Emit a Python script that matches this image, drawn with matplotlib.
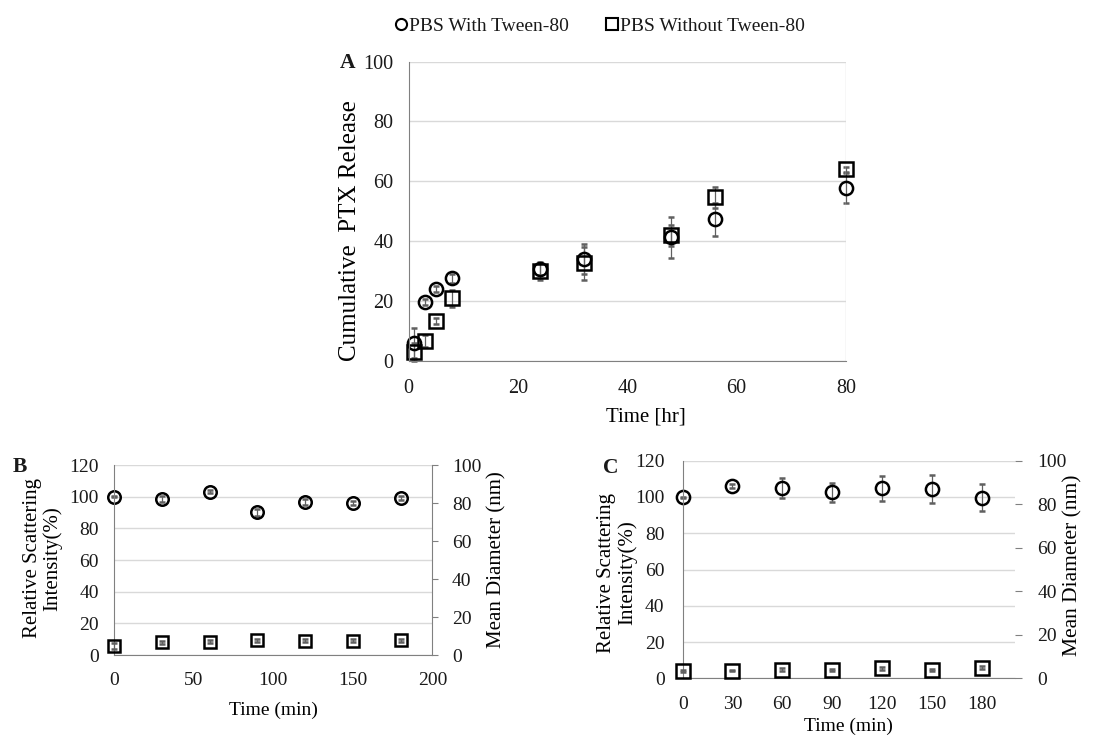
import matplotlib
matplotlib.use("Agg")
import matplotlib.pyplot as plt
from matplotlib.lines import Line2D

plt.rcParams['font.family'] = ['Liberation Serif', 'DejaVu Serif']
plt.rcParams['font.size'] = 14
plt.rcParams['text.color'] = '#1a1a1a'
plt.rcParams['xtick.color'] = '#1a1a1a'
plt.rcParams['ytick.color'] = '#1a1a1a'

# panel A: cumulative release
t_hr = [1, 3, 5, 8, 24, 32, 48, 56, 80]
rel_with = [5.8, 19.7, 24.1, 27.5, 30.5, 33.9, 41.2, 47.3, 57.6]
rel_with_err = [5.0, 1.0, 1.0, 1.5, 2.0, 5.0, 7.0, 5.5, 5.0]
rel_without = [3.0, 6.7, 13.4, 20.8, 30.1, 32.6, 42.0, 54.6, 64.0]
rel_without_err = [3.0, 2.0, 1.0, 3.0, 3.0, 5.5, 3.5, 3.5, 0.8]

# panel B
t_b = [0, 30, 60, 90, 120, 150, 180]
int_b = [100, 98.5, 103.2, 90.1, 96.8, 96.0, 99.2]
int_b_err = [0.5, 2.0, 1.0, 2.0, 2.0, 1.5, 1.5]
diam_b = [4.9, 6.7, 7.0, 7.9, 7.4, 7.4, 7.9]
diam_b_err = [1.5, 0.8, 0.8, 0.8, 0.8, 0.8, 0.8]

# panel C
t_c = [0, 30, 60, 90, 120, 150, 180]
int_c = [99.8, 106.2, 105.1, 102.6, 104.8, 104.4, 99.6]
int_c_err = [0.3, 1.0, 5.4, 5.2, 6.8, 7.5, 7.3]
diam_c = [3.4, 3.5, 4.0, 3.8, 4.6, 4.0, 4.9]
diam_c_err = [0.5, 0.3, 0.6, 0.4, 0.7, 0.5, 0.6]

grid_col = '#d9d9d9'
spine_col = '#808080'
mk = dict(mfc='none', mec='black', mew=1.8, ls='none', ecolor='#606060',
          elinewidth=0.9, capsize=2.5, capthick=0.9)


def style(ax):
    ax.grid(axis='y', color=grid_col, lw=1)
    ax.set_axisbelow(True)
    for s in ['top', 'right']:
        ax.spines[s].set_visible(False)
    ax.spines['left'].set_color(spine_col)
    ax.spines['bottom'].set_color(spine_col)
    ax.tick_params(length=0)


def place_labels(ax, xl, yl):
    ax.xaxis.set_label_coords(*xl)
    ax.xaxis.label.set_va('center')
    ax.yaxis.set_label_coords(*yl)
    ax.yaxis.label.set_va('center')


fig = plt.figure(figsize=(11.18, 7.35), dpi=100)

axA = fig.add_axes([0.3656, 0.5093, 0.3909, 0.4068])
style(axA)
axA.errorbar(t_hr, rel_with, yerr=rel_with_err, marker='o', ms=9.5, clip_on=False, **mk)
axA.errorbar(t_hr, rel_without, yerr=rel_without_err, marker='s', ms=9.5, clip_on=False, **mk)
axA.set_xlim(0, 80)
axA.set_ylim(0, 100)
axA.set_xticks([0, 20, 40, 60, 80])
axA.set_yticks([0, 20, 40, 60, 80, 100])
axA.tick_params(axis='x', pad=13, labelsize=14.5)
axA.tick_params(axis='y', pad=11, labelsize=14.5)
axA.axvline(80, color=grid_col, lw=1)
axA.set_xlabel('Time [hr]', fontsize=15)
axA.set_ylabel('Cumulative  PTX Release', fontsize=18)
place_labels(axA, (0.543, -0.188), (-0.134, 0.434))
fig.text(0.304, 0.914, 'A', weight='bold', fontsize=15.5, va='center')

handles = [Line2D([], [], marker='o', mfc='none', mec='black', mew=1.5, ms=8, ls='none'),
           Line2D([], [], marker='s', mfc='none', mec='black', mew=1.5, ms=8, ls='none')]
fig.legend(handles, ['PBS With Tween-80', 'PBS Without Tween-80'], loc='center',
           bbox_to_anchor=(0.537, 0.964), ncol=2, frameon=False, handlelength=0.5,
           handletextpad=0.15, columnspacing=2.0, fontsize=14)

# panel B
axB = fig.add_axes([0.1022, 0.1088, 0.2845, 0.2585])
style(axB)
axB.errorbar(t_b, int_b, yerr=int_b_err, marker='o', ms=9, clip_on=False, **mk)
axB.set_xlim(0, 200)
axB.set_ylim(0, 120)
axB.set_yticks(range(0, 121, 20))
axB.set_xticks([0, 50, 100, 150, 200])
axB.tick_params(axis='x', pad=12)
axB.tick_params(axis='y', pad=11)
axB.set_xlabel('Time (min)')
axB.set_ylabel('Relative Scattering\nIntensity(%)', fontsize=15, linespacing=1.05)
place_labels(axB, (0.502, -0.289), (-0.224, 0.51))
axB2 = axB.twinx()
axB2.errorbar(t_b, diam_b, yerr=diam_b_err, marker='s', ms=9, clip_on=False, **mk)
axB2.set_ylim(0, 100)
axB2.set_yticks(range(0, 101, 20))
for s in ['top', 'left', 'bottom']:
    axB2.spines[s].set_visible(False)
axB2.spines['right'].set_color(spine_col)
axB2.tick_params(axis='y', color=spine_col, length=4, direction='out', pad=10)
axB2.set_ylabel('Mean Diameter (nm)', fontsize=15)
axB2.yaxis.set_label_coords(1.203, 0.50)
axB2.yaxis.label.set_va('center')
fig.text(0.011, 0.365, 'B', weight='bold', fontsize=15.5, va='center')

# panel C
axC = fig.add_axes([0.6106, 0.0771, 0.2972, 0.2961])
style(axC)
axC.errorbar(t_c, int_c, yerr=int_c_err, marker='o', ms=9.5, clip_on=False, **mk)
axC.set_xlim(0, 200)
axC.set_ylim(0, 120)
axC.set_yticks(range(0, 121, 20))
axC.set_xticks(t_c)
axC.tick_params(axis='x', pad=13)
axC.tick_params(axis='y', pad=13)
axC.set_xlabel('Time (min)')
axC.set_ylabel('Relative Scattering\nIntensity(%)', fontsize=15, linespacing=1.05)
place_labels(axC, (0.50, -0.219), (-0.197, 0.484))
axC2 = axC.twinx()
axC2.errorbar(t_c, diam_c, yerr=diam_c_err, marker='s', ms=9.5, clip_on=False, **mk)
axC2.set_ylim(0, 100)
axC2.set_yticks(range(0, 101, 20))
for s in ['top', 'left', 'bottom', 'right']:
    axC2.spines[s].set_visible(False)
axC2.tick_params(axis='y', color=spine_col, length=5, direction='out', pad=11)
axC2.set_ylabel('Mean Diameter (nm)', fontsize=15.5)
axC2.yaxis.set_label_coords(1.175, 0.52)
axC2.yaxis.label.set_va('center')
fig.text(0.539, 0.363, 'C', weight='bold', fontsize=15.5, va='center')

fig.savefig('out.png', dpi=100)
